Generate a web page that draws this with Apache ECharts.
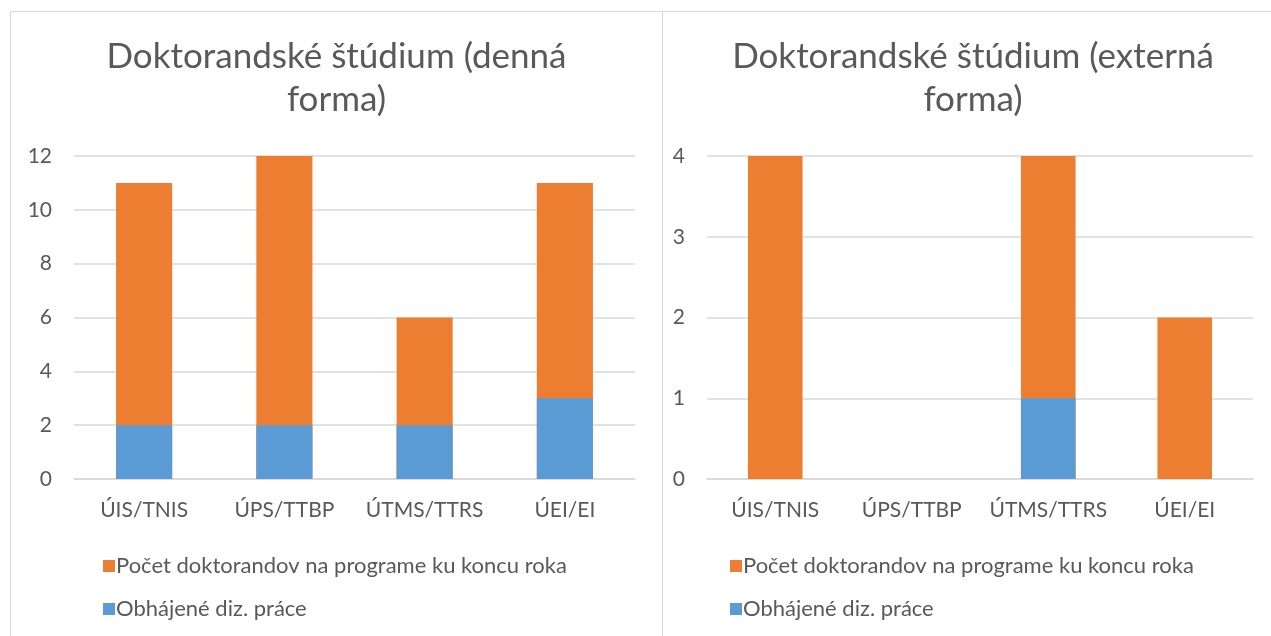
<!DOCTYPE html>
<html lang="sk">
<head>
<meta charset="utf-8">
<script src="https://cdn.jsdelivr.net/npm/echarts@6/dist/echarts.min.js"></script>
<style>
  * { margin: 0; padding: 0; }
  body { width: 1271px; height: 636px; background: #fff; overflow: hidden; position: relative; }
  .box { position: absolute; top: 11px; height: 640px; border: 1px solid #D9D9D9; box-sizing: border-box; background: #fff; }
  #left { left: 10px; width: 653px; }
  #right { left: 662px; width: 630px; }
</style>
</head>
<body>
<div id="left" class="box"></div>
<div id="right" class="box"></div>
<script>
// kategórie (spoločné pre oba grafy)
var categories = ['ÚIS/TNIS', 'ÚPS/TTBP', 'ÚTMS/TTRS', 'ÚEI/EI'];
var seriesNames = ['Počet doktorandov na programe ku koncu roka', 'Obhájené diz. práce'];

// denná forma
var dennaPocet = [11, 12, 6, 11];
var dennaObhajene = [2, 2, 2, 3];

// externá forma
var externaPocet = [4, 0, 4, 2];
var externaObhajene = [0, 0, 1, 0];

var FONT = 'Lato, "Noto Sans", sans-serif';
var TXT = '#595959';

function makeOption(title, pocet, obhajene, max, interval, gridLeft, gridWidth, legendLeft) {
    return {
        animation: false,
        textStyle: { fontFamily: FONT },
        title: {
            text: title,
            left: 'center',
            top: 18,
            textStyle: { fontFamily: FONT, fontSize: 35, fontWeight: 'normal', color: TXT, lineHeight: 43 }
        },
        legend: {
            orient: 'vertical',
            left: legendLeft,
            top: 538,
            itemWidth: 12,
            itemHeight: 12,
            itemGap: 21,
            icon: 'rect',
            textStyle: { fontFamily: FONT, fontSize: 22, color: TXT, padding: [0, 0, 0, -4] },
            data: seriesNames
        },
        grid: { left: gridLeft, top: 144, width: gridWidth, height: 323 },
        xAxis: {
            type: 'category',
            data: categories,
            axisLine: { lineStyle: { color: '#D9D9D9', width: 1.5 } },
            axisTick: { show: false },
            axisLabel: { color: TXT, fontSize: 21, margin: 21, fontFamily: FONT, interval: 0 }
        },
        yAxis: {
            type: 'value',
            min: 0,
            max: max,
            interval: interval,
            axisLine: { show: false },
            axisTick: { show: false },
            axisLabel: { color: TXT, fontSize: 21, margin: 22, fontFamily: FONT },
            splitLine: { lineStyle: { color: '#D9D9D9', width: 1.5 } }
        },
        series: [
            {
                name: seriesNames[0],
                type: 'bar',
                data: pocet,
                barWidth: '40%',
                itemStyle: { color: '#ED7D31' }
            },
            {
                name: seriesNames[1],
                type: 'bar',
                data: obhajene,
                barWidth: '40%',
                barGap: '-100%',
                itemStyle: { color: '#5B9BD5' }
            }
        ]
    };
}

var leftChart = echarts.init(document.getElementById('left'));
leftChart.setOption(makeOption('Doktorandské štúdium (denná\nforma)', dennaPocet, dennaObhajene, 12, 2, 63, 561, 87));

var rightChart = echarts.init(document.getElementById('right'));
var rightOpt = makeOption('Doktorandské štúdium (externá\nforma)', externaPocet, externaObhajene, 4, 1, 44, 546, 62);
rightOpt.title.left = 305;
rightOpt.title.textAlign = 'center';
rightChart.setOption(rightOpt);
</script>
</body>
</html>
